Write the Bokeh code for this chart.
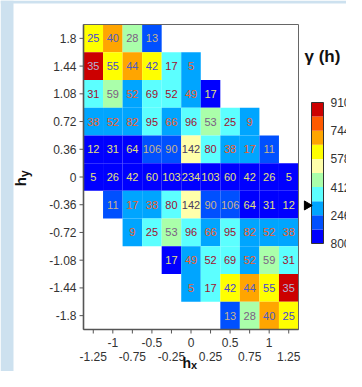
import numpy as np
from bokeh.plotting import figure
from bokeh.models import Range1d, LinearColorMapper, ColumnDataSource
from bokeh.transform import transform
from bokeh.core.properties import value
from bokeh.embed import file_html
from bokeh.resources import INLINE

# ---------------- data ----------------
hx = [-1.25, -1.0, -0.75, -0.5, -0.25, 0.0, 0.25, 0.5, 0.75, 1.0, 1.25]
hy = [1.8, 1.44, 1.08, 0.72, 0.36, 0.0, -0.36, -0.72, -1.08, -1.44, -1.8]
hx_labels_upper = ["-1", "-0.5", "0", "0.5", "1"]
hx_labels_lower = ["-1.25", "-0.75", "-0.25", "0.25", "0.75", "1.25"]
hy_labels = ["1.8", "1.44", "1.08", "0.72", "0.36", "0", "-0.36", "-0.72", "-1.08", "-1.44", "-1.8"]
N = None
# number of pairs per lag cell (rows follow hy, columns follow hx)
npairs = [
    [25, 40, 28, 13, N, N, N, N, N, N, N],
    [35, 55, 44, 42, 17, 5, N, N, N, N, N],
    [31, 59, 52, 69, 52, 49, 17, N, N, N, N],
    [38, 52, 82, 95, 66, 96, 53, 25, 9, N, N],
    [12, 31, 64, 106, 90, 142, 80, 38, 17, 11, N],
    [5, 26, 42, 60, 103, 234, 103, 60, 42, 26, 5],
    [N, 11, 17, 38, 80, 142, 90, 106, 64, 31, 12],
    [N, N, 9, 25, 53, 96, 66, 95, 82, 52, 38],
    [N, N, N, N, 17, 49, 52, 69, 52, 59, 31],
    [N, N, N, N, N, 5, 17, 42, 44, 55, 35],
    [N, N, N, N, N, N, N, 13, 28, 40, 25],
]
# semivariance gamma(h) per lag cell (estimated from the colour classes)
gamma = [
    [62000, 70300, 45400, 20500, N, N, N, N, N, N, N],
    [86800, 62000, 70300, 62000, 37000, 28800, N, N, N, N, N],
    [37000, 45400, 28800, 37000, 37000, 28800, 12000, N, N, N, N],
    [28800, 28800, 28800, 37000, 28800, 37000, 45400, 37000, 28800, N, N],
    [12000, 12000, 12000, 20500, 20500, 53700, 37000, 28800, 28800, 20500, N],
    [12000, 12000, 12000, 12000, 12000, 12000, 12000, 12000, 12000, 12000, 12000],
    [N, 20500, 28800, 28800, 37000, 53700, 20500, 20500, 12000, 12000, 12000],
    [N, N, 28800, 37000, 45400, 37000, 28800, 37000, 28800, 28800, 28800],
    [N, N, N, N, 12000, 28800, 37000, 37000, 28800, 45400, 37000],
    [N, N, N, N, N, 28800, 37000, 62000, 70300, 62000, 86800],
    [N, N, N, N, N, N, N, 20500, 45400, 70300, 62000],
]
cbar_ticks = [8000, 24600, 41200, 57800, 74400, 91000]
sill = 30400  # value marked by the black pointer on the colour bar

palette = ["#0000FF", "#0050FF", "#00A5FF", "#5CFFFF", "#AAFFAA",
           "#FFFFAA", "#FFFF00", "#FFA500", "#FF5A00", "#CC0000"]
text_palette = ["#E6E07A", "#C8B48C", "#F0602A", "#A0102E", "#7C5E84",
                "#4A3C60", "#4646D2", "#4E5CC4", "#3E6AC8", "#B4B4D4"]

low, high = cbar_ticks[0], cbar_ticks[-1]
mapper = LinearColorMapper(palette=palette, low=low, high=high)

xs, ys, gs, ns, tcs = [], [], [], [], []
for i, yv in enumerate(hy):
    for j, xv in enumerate(hx):
        if npairs[i][j] is None:
            continue
        g = gamma[i][j]
        k = min(len(palette) - 1, int((g - low) / (high - low) * len(palette)))
        xs.append(xv); ys.append(yv); gs.append(g)
        ns.append(str(npairs[i][j])); tcs.append(text_palette[k])
src = ColumnDataSource(dict(x=xs, y=ys, g=gs, n=ns, tc=tcs))

FONT = "Liberation Sans"
AX = "#555555"
LBL = "#333333"
DARK = "#111111"

# ---------------- geometry (pixels) ----------------
W, H = 346, 371
ML, MT = 83, 24            # map offset from canvas left / top
MAPW, MAPH = 215, 305      # map size
x0, x1 = hx[0] - 0.125, hx[-1] + 0.125
y0, y1 = hy[-1] - 0.18, hy[0] + 0.18
pxx = MAPW / (x1 - x0)
pxy = MAPH / (y1 - y0)
xr = Range1d(x0 - ML / pxx, x0 + (W - ML) / pxx)
yr = Range1d(y1 - (H - MT) / pxy, y1 + MT / pxy)

def dx(px):   # pixel offset from map left -> data x
    return x0 + px / pxx

def dy(px):   # pixel offset below map bottom -> data y
    return y0 - px / pxy

p = figure(width=W, height=H, x_range=xr, y_range=yr,
           x_axis_type=None, y_axis_type=None,
           output_backend="svg", toolbar_location=None, min_border=0)
p.min_border_left = 0
p.min_border_right = 0
p.min_border_top = 0
p.min_border_bottom = 0
p.outline_line_color = None
p.background_fill_color = "white"
p.border_fill_color = "white"

# colour-bar value range: bar spans 141 px, its bottom lies 86 px above the map bottom
cb_per_px = (high - low) / 141.0
cb_bottom = low - (86 + (H - MT - MAPH)) * cb_per_px
p.extra_y_ranges = {"cb": Range1d(cb_bottom, cb_bottom + H * cb_per_px)}

# light blue page background strips (left and top)
p.quad(left=xr.start, right=xr.start + 13 / pxx, bottom=yr.start, top=yr.end,
       fill_color="#cde1ef", line_color=None)
p.quad(left=xr.start, right=xr.end, bottom=yr.end - 3 / pxy, top=yr.end,
       fill_color="#cde1ef", line_color=None)

# map cells and pair counts
p.rect("x", "y", width=0.25, height=0.36, source=src,
       fill_color=transform("g", mapper), line_color=None)
p.text("x", "y", text="n", source=src, text_align="center", text_baseline="middle",
       text_font=value(FONT), text_font_size="11px", text_color="tc")

# frame
p.quad(left=x0, right=x1, bottom=y0, top=y1, fill_color=None, line_color="#666666",
       line_width=1)
p.segment(x0=[x0], y0=[y0], x1=[x0], y1=[y1], line_color=AX, line_width=1.6)
p.segment(x0=[x0], y0=[y0], x1=[x1], y1=[y0], line_color=AX, line_width=1.6)

# y axis ticks + labels
p.segment(x0=[dx(-4)] * len(hy), y0=hy, x1=[x0] * len(hy), y1=hy, line_color=AX,
          line_width=1)
p.text(x=[dx(-7)] * len(hy), y=hy, text=hy_labels, text_align="right",
       text_baseline="middle", text_font=value(FONT), text_font_size="12px",
       text_color=LBL)

# x axis ticks + two rows of labels
p.segment(x0=hx, y0=[y0] * len(hx), x1=hx, y1=[dy(4)] * len(hx), line_color=AX,
          line_width=1)
p.text(x=hx[1::2], y=[dy(13)] * len(hx_labels_upper), text=hx_labels_upper,
       text_align="center", text_baseline="middle", text_font=value(FONT),
       text_font_size="12px", text_color=LBL)
p.text(x=hx[0::2], y=[dy(27)] * len(hx_labels_lower), text=hx_labels_lower,
       text_align="center", text_baseline="middle", text_font=value(FONT),
       text_font_size="12px", text_color=LBL)

# axis titles h_x and h_y
p.text(x=[0.0], y=[dy(33)], text=["h"], text_align="right", text_baseline="middle",
       text_font=value(FONT), text_font_style="bold", text_font_size="14px",
       text_color=DARK)
p.text(x=[0.0], y=[dy(35)], text=["x"], text_align="left", text_baseline="middle",
       text_font=value(FONT), text_font_style="bold", text_font_size="11px",
       text_color=DARK)
p.text(x=[dx(-63)], y=[0.0], text=["h"], angle=np.pi / 2, text_align="right",
       text_baseline="middle", text_font=value(FONT), text_font_style="bold",
       text_font_size="15px", text_color=DARK)
p.text(x=[dx(-59)], y=[0.0], text=["y"], angle=np.pi / 2, text_align="left",
       text_baseline="middle", text_font=value(FONT), text_font_style="bold",
       text_font_size="12px", text_color=DARK)

# ---------------- colour bar ----------------
edges = np.linspace(low, high, len(palette) + 1)
bl, br = dx(228), dx(240)
p.quad(left=bl, right=br, bottom=edges[:-1], top=edges[1:], fill_color=palette,
       line_color=None, y_range_name="cb")
p.quad(left=bl, right=br, bottom=low, top=high, fill_color=None, line_color="#333333",
       line_width=1, y_range_name="cb")
p.text(x=[dx(247)] * len(cbar_ticks), y=cbar_ticks, text=[str(t) for t in cbar_ticks],
       text_align="left", text_baseline="middle", text_font=value(FONT),
       text_font_size="12px", text_color=LBL, y_range_name="cb")
p.text(x=[dx(221)], y=[low + (243 - 56) * cb_per_px], text=["γ (h)"],
       text_align="left", text_baseline="middle", text_font=value(FONT),
       text_font_style="bold", text_font_size="17px", text_color=DARK,
       y_range_name="cb")
p.scatter(x=[dx(223.5)], y=[sill], marker="triangle", size=9, angle=-np.pi / 2,
          fill_color="black", line_color="black", y_range_name="cb")

open("out.html", "w").write(file_html(p, INLINE))
